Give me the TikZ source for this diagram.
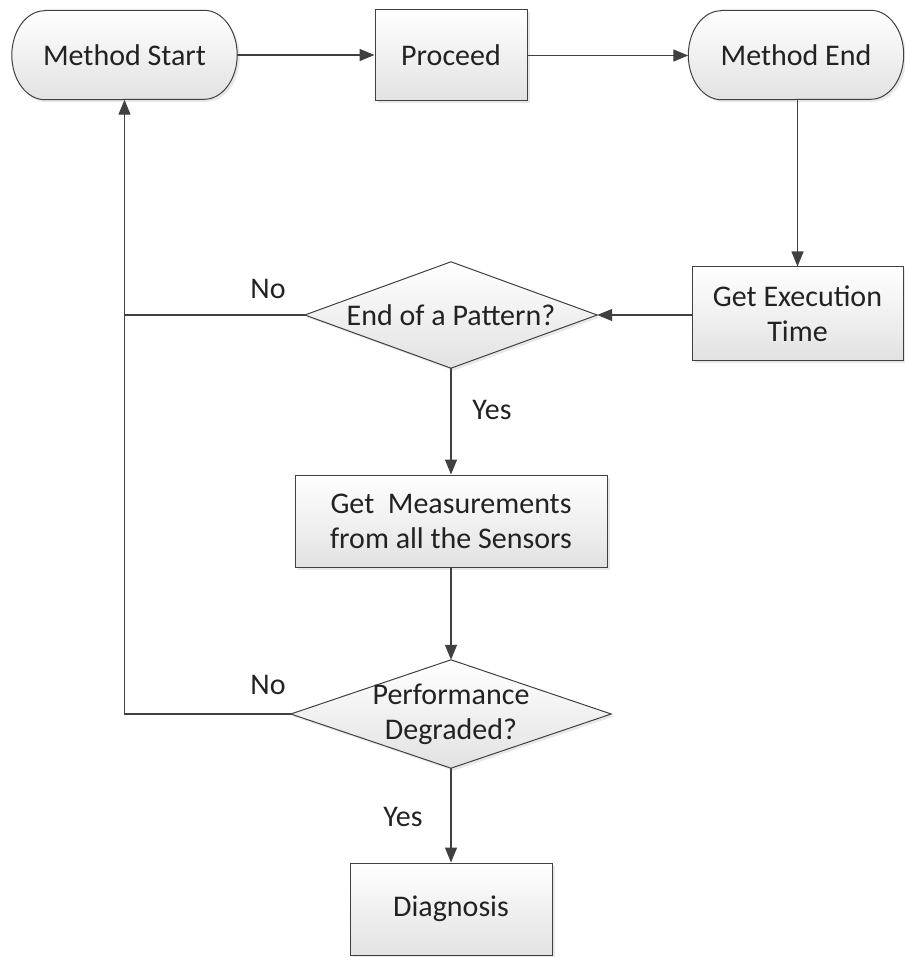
\documentclass[tikz,border=0pt]{standalone}
\usepackage{fontspec}
\setmainfont{Carlito}
\usetikzlibrary{arrows.meta,shadows,backgrounds}
\definecolor{edge}{HTML}{404040}
\definecolor{ink}{HTML}{222222}
\definecolor{fillbot}{HTML}{E2E2E2}

\begin{document}
\begin{tikzpicture}[x=1pt,y=-1pt,
  every node/.style={font=\fontsize{30}{35}\selectfont, text=ink, align=center},
  shapefill/.style={draw=edge, line width=1pt, top color=white, bottom color=fillbot,
    drop shadow={opacity=0.18, shadow xshift=2.5pt, shadow yshift=-2.5pt}},
  procbox/.style={shapefill, rectangle, inner sep=0pt},
  textonly/.style={draw=none, inner sep=0pt},
  flow/.style={draw=edge, line width=1.3pt, -{Triangle[length=15pt,width=12pt]}},
  plain/.style={draw=edge, line width=1.3pt}
]
\useasboundingbox (0,0) rectangle (904,957);

% terminators (outline drawn on the background layer)
\node[textonly, minimum width=225pt, minimum height=89pt] (ms) at (124.5,55) {Method Start};
\node[textonly, minimum width=215pt, minimum height=89pt] (me) at (796,55) {Method End};

% process boxes
\node[procbox, minimum width=152pt, minimum height=91pt] (pr) at (451,55.5) {Proceed};
\node[procbox, minimum width=211pt, minimum height=93pt] (ge) at (797.5,313.5) {Get Execution\\Time};
\node[procbox, minimum width=312pt, minimum height=92pt] (mm) at (451,521) {Get\ \ Measurements\\from all the Sensors};
\node[procbox, minimum width=202pt, minimum height=92pt] (dg) at (451,909) {Diagnosis};

% decisions (outline drawn on the background layer)
\node[textonly, minimum width=292pt, minimum height=106pt] (d1) at (451,315) {End of a Pattern?};
\node[textonly, minimum width=320pt, minimum height=108pt] (d2) at (451,714) {Performance\\Degraded?};

\begin{scope}[on background layer]
  \foreach \t in {ms,me}{
    \path[shapefill] ([xshift=33pt]\t.north west) -- ([xshift=-33pt]\t.north east)
      arc[start angle=90, end angle=-90, x radius=33pt, y radius=44.5pt]
      -- ([xshift=33pt]\t.south west)
      arc[start angle=270, end angle=90, x radius=33pt, y radius=44.5pt] -- cycle;
  }
  \foreach \t in {d1,d2}{
    \path[shapefill] (\t.west) -- (\t.north) -- (\t.east) -- (\t.south) -- cycle;
  }
\end{scope}

% connectors
\draw[flow] (ms.east) -- (ms.east -| pr.west);
\draw[flow] (pr.east) -- (pr.east -| me.west);
\draw[flow] (me.south -| ge.north) -- (ge.north);
\draw[flow] (ge.west |- d1.east) -- (d1.east);
\draw[flow] (d1.south) -- (mm.north);
\draw[flow] (mm.south) -- (d2.north);
\draw[flow] (d2.south) -- (dg.north);

\coordinate (j1) at (d1.west -| ms.south);
\draw[plain] (d1.west) -- (j1);
\draw[flow] (d2.west) -- (d2.west -| ms.south) -- (ms.south);

% branch labels
\node (no1) at (268,289) {No};
\node (no2) at (268,685) {No};
\node (yes1) at (492,410) {Yes};
\node (yes2) at (403,817) {Yes};
\end{tikzpicture}
\end{document}
